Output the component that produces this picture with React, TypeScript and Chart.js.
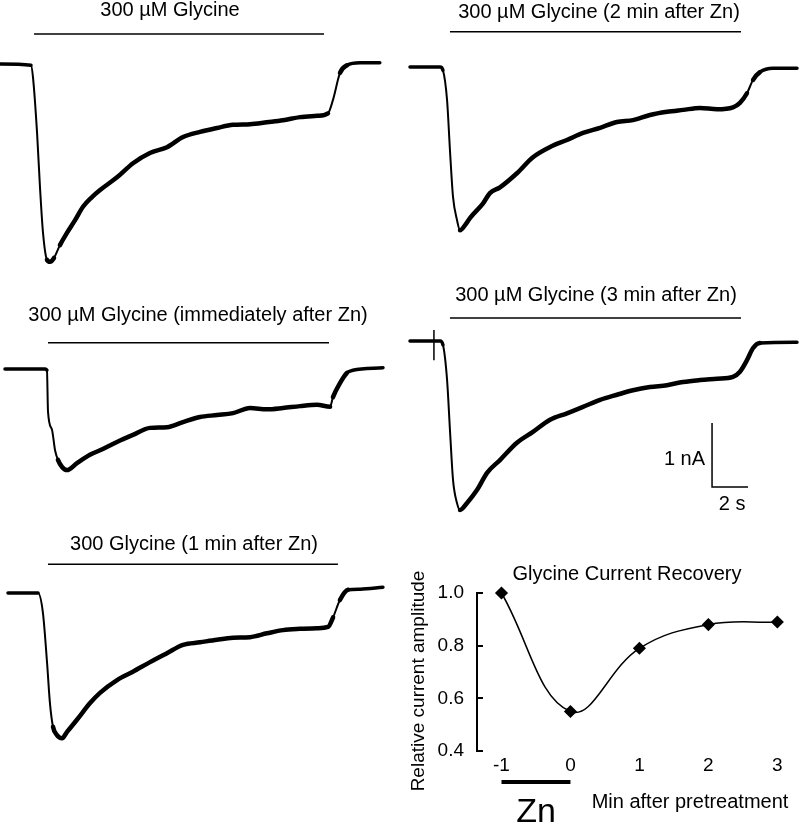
import React, { useEffect, useRef } from "react";
import { Chart, registerables } from "chart.js";

Chart.register(...registerables);

// ---------------- data ----------------
// time in s, current in nA (inward current negative)
const controlTime = [0, 1.72, 1.83, 2.06, 2.22, 2.39, 2.61, 2.78, 3.0, 3.33, 3.72, 4.17, 4.61, 5.11, 5.56, 6.5, 7.39, 8.33, 9.28, 10.17, 11.11, 12.06, 12.94, 13.89, 14.83, 15.72, 16.67, 17.61, 18.22, 18.5, 18.89, 19.28, 20.0, 21.1];
const controlCurrent = [0, -0.02, -0.2, -1.08, -1.92, -2.64, -3.06, -3.09, -3.03, -2.83, -2.64, -2.44, -2.23, -2.08, -1.97, -1.77, -1.55, -1.39, -1.3, -1.14, -1.06, -1.0, -0.95, -0.94, -0.91, -0.88, -0.83, -0.81, -0.77, -0.56, -0.14, -0.02, 0.02, 0.02];

const immediateTime = [0, 2.22, 2.33, 2.39, 2.61, 2.78, 2.94, 3.17, 3.44, 4.0, 4.72, 5.28, 6.22, 7.11, 8.06, 9.0, 9.89, 10.83, 11.78, 12.67, 13.61, 14.56, 15.44, 16.39, 17.33, 18.06, 18.22, 18.61, 19.0, 19.33, 21.0];
const immediateCurrent = [0, 0, -0.02, -0.67, -0.95, -1.27, -1.42, -1.53, -1.58, -1.47, -1.34, -1.27, -1.14, -1.03, -0.92, -0.91, -0.83, -0.75, -0.72, -0.69, -0.61, -0.63, -0.61, -0.58, -0.56, -0.59, -0.44, -0.22, -0.06, -0.02, 0.02];

const oneMinTime = [0, 1.67, 1.94, 2.17, 2.33, 2.5, 2.72, 3.0, 3.28, 3.83, 4.56, 5.11, 6.06, 6.94, 7.89, 8.83, 9.72, 10.67, 11.61, 12.5, 13.44, 14.39, 15.28, 16.22, 17.17, 17.78, 18.06, 18.44, 18.89, 19.56, 20.83];
const oneMinCurrent = [0, 0, -0.31, -1.09, -1.72, -2.09, -2.22, -2.27, -2.17, -1.98, -1.72, -1.56, -1.36, -1.23, -1.08, -0.94, -0.81, -0.77, -0.73, -0.7, -0.69, -0.63, -0.58, -0.56, -0.55, -0.53, -0.38, -0.11, 0.05, 0.06, 0.09];

const twoMinTime = [0, 1.67, 1.83, 2.06, 2.22, 2.39, 2.61, 2.78, 3.06, 3.33, 4.06, 4.44, 5.0, 5.94, 6.83, 7.78, 8.72, 9.61, 10.56, 11.5, 12.39, 13.33, 14.28, 15.17, 16.11, 17.06, 17.94, 18.33, 18.72, 19.06, 19.44, 20.17, 21.5];
const twoMinCurrent = [0, 0, -0.05, -0.52, -1.3, -2.03, -2.39, -2.55, -2.47, -2.36, -2.13, -1.97, -1.88, -1.66, -1.41, -1.25, -1.14, -1.03, -0.95, -0.86, -0.83, -0.75, -0.7, -0.67, -0.64, -0.66, -0.63, -0.56, -0.41, -0.2, -0.08, -0.02, -0.02];

const threeMinTime = [0, 1.67, 1.83, 2.06, 2.22, 2.39, 2.61, 2.78, 3.17, 3.72, 4.28, 5.0, 5.94, 6.83, 7.78, 8.72, 9.61, 10.56, 11.5, 12.39, 13.33, 14.28, 15.17, 16.11, 17.06, 17.94, 18.33, 18.72, 19.06, 19.44, 21.5];
const threeMinCurrent = [0, 0, -0.06, -0.61, -1.39, -2.17, -2.53, -2.64, -2.53, -2.33, -2.06, -1.86, -1.59, -1.42, -1.23, -1.13, -1.03, -0.92, -0.84, -0.77, -0.72, -0.69, -0.64, -0.61, -0.59, -0.56, -0.48, -0.3, -0.11, -0.03, -0.02];

// stimulus artifact on the 3-min trace
const artifactTime = 1.33;
const artifactCurrent = [0.17, -0.3];

// panel order: control, immediately, 1 min, 2 min, 3 min
const panelTitles = [
  "300 \u00B5M Glycine",
  "300 \u00B5M Glycine (immediately after Zn)",
  "300 Glycine (1 min after Zn)",
  "300 \u00B5M Glycine (2 min after Zn)",
  "300 \u00B5M Glycine (3 min after Zn)",
];
const stimulusStart = [1.89, 2.39, 2.22, 2.22, 2.22];
const stimulusEnd = [18.0, 18.0, 18.33, 18.39, 18.39];

// scale bar
const scaleBarCurrent = 1; // nA
const scaleBarTime = 2; // s
const scaleBarLabels = ["1 nA", "2 s"];

// recovery plot
const recoveryMinutes = [-1, 0, 1, 2, 3];
const recoveryAmplitude = [1.0, 0.55, 0.79, 0.88, 0.89];
const recoveryXTicks = [-1, 0, 1, 2, 3];
const recoveryYTicks = [0.4, 0.6, 0.8, 1.0];
const znStart = -1;
const znEnd = 0;

// ---------------- layout (positions only) ----------------
const PX_PER_S = 18;
const PX_PER_NA = 64;
const FONT = '"Liberation Sans", Arial, Helvetica, sans-serif';

type Box = { left: number; top: number; width: number; height: number };
type TraceLayout = { box: Box; x0: number; yb: number; barLevel: number; titleX: number; titleY: number };

const traceLayouts: TraceLayout[] = [
  { box: { left: 0, top: 0, width: 400, height: 280 }, x0: 0, yb: 64, barLevel: 0.47, titleX: 170, titleY: 16 },
  { box: { left: 0, top: 280, width: 400, height: 250 }, x0: 5, yb: 369, barLevel: 0.41, titleX: 198, titleY: 321 },
  { box: { left: 0, top: 530, width: 400, height: 294 }, x0: 8, yb: 593, barLevel: 0.45, titleX: 194, titleY: 550 },
  { box: { left: 400, top: 0, width: 400, height: 280 }, x0: 410, yb: 67, barLevel: 0.55, titleX: 599, titleY: 18 },
  { box: { left: 400, top: 280, width: 400, height: 250 }, x0: 410, yb: 341, barLevel: 0.36, titleX: 596, titleY: 301 },
];
const scaleBarOrigin = { t: 16.78, i: -1.28 };
const recoveryBox: Box = { left: 400, top: 530, width: 400, height: 294 };
const znBarLevel = 0.282;

type TextItem = { text: string; x: number; y: number; size: number; align?: CanvasTextAlign; rotate?: boolean };

function textPlugin(items: (chart: any) => TextItem[], extra?: (chart: any) => void) {
  return {
    id: "pageText",
    afterDraw(chart: any) {
      const ctx = chart.ctx as CanvasRenderingContext2D;
      ctx.save();
      if (extra) extra(chart);
      for (const it of items(chart)) {
        ctx.font = `${it.size}px ${FONT}`;
        ctx.fillStyle = "#000";
        ctx.textAlign = it.align || "center";
        ctx.textBaseline = "alphabetic";
        if (it.rotate) {
          ctx.save();
          ctx.translate(it.x, it.y);
          ctx.rotate(-Math.PI / 2);
          ctx.fillText(it.text, 0, 0);
          ctx.restore();
        } else {
          ctx.fillText(it.text, it.x, it.y);
        }
      }
      ctx.restore();
    },
  };
}

const zip = (xs: number[], ys: number[]) => xs.map((x, k) => ({ x, y: ys[k] }));

const segWidth = (ctx: any) => {
  const a = ctx.p0.parsed;
  const b = ctx.p1.parsed;
  const slope = Math.abs((b.y - a.y) / (b.x - a.x));
  if (slope > 0.6) return 2;
  if (Math.max(Math.abs(a.y), Math.abs(b.y)) < 0.1) return 3.5;
  return 4.5;
};

function makeTraceChart(canvas: HTMLCanvasElement, idx: number, t: number[], cur: number[], withScale: boolean) {
  const lay = traceLayouts[idx];
  const b = lay.box;
  const xmin = (b.left - lay.x0) / PX_PER_S;
  const xmax = (b.left + b.width - lay.x0) / PX_PER_S;
  const ymax = (lay.yb - b.top) / PX_PER_NA;
  const ymin = (lay.yb - b.top - b.height) / PX_PER_NA;
  const datasets: any[] = [
    {
      data: zip(t, cur),
      borderColor: "#000",
      borderWidth: 3,
      borderCapStyle: "round",
      borderJoinStyle: "round",
      pointRadius: 0,
      cubicInterpolationMode: "monotone",
      segment: { borderWidth: segWidth },
      clip: false,
    },
    {
      data: [
        { x: stimulusStart[idx], y: lay.barLevel },
        { x: stimulusEnd[idx], y: lay.barLevel },
      ],
      borderColor: "#000",
      borderWidth: 1.5,
      pointRadius: 0,
    },
  ];
  if (withScale) {
    datasets.push({
      data: [
        { x: artifactTime, y: artifactCurrent[0] },
        { x: artifactTime, y: artifactCurrent[1] },
      ],
      borderColor: "#000",
      borderWidth: 1.5,
      pointRadius: 0,
    });
    datasets.push({
      data: [
        { x: scaleBarOrigin.t, y: scaleBarOrigin.i },
        { x: scaleBarOrigin.t, y: scaleBarOrigin.i - scaleBarCurrent },
        { x: scaleBarOrigin.t + scaleBarTime, y: scaleBarOrigin.i - scaleBarCurrent },
      ],
      borderColor: "#000",
      borderWidth: 1.5,
      pointRadius: 0,
      tension: 0,
    });
  }
  const texts = (chart: any): TextItem[] => {
    const arr: TextItem[] = [
      { text: panelTitles[idx], x: lay.titleX - b.left, y: lay.titleY - b.top, size: 20 },
    ];
    if (withScale) {
      const xs = chart.scales.x;
      const ys = chart.scales.y;
      const vx = xs.getPixelForValue(scaleBarOrigin.t);
      const hx = xs.getPixelForValue(scaleBarOrigin.t + scaleBarTime);
      const top = ys.getPixelForValue(scaleBarOrigin.i);
      const bot = ys.getPixelForValue(scaleBarOrigin.i - scaleBarCurrent);
      arr.push({ text: scaleBarLabels[0], x: vx - 7, y: (top + bot) / 2 + 10, size: 20, align: "right" });
      arr.push({ text: scaleBarLabels[1], x: (vx + hx) / 2 + 2, y: bot + 23, size: 20 });
    }
    return arr;
  };
  return new Chart(canvas, {
    type: "line",
    data: { datasets },
    options: {
      responsive: false,
      animation: false,
      events: [],
      layout: { padding: 0 },
      plugins: { legend: { display: false }, tooltip: { enabled: false }, title: { display: false } },
      scales: {
        x: { type: "linear", display: false, min: xmin, max: xmax },
        y: { type: "linear", display: false, min: ymin, max: ymax },
      },
    } as any,
    plugins: [textPlugin(texts)],
  });
}

function makeRecoveryChart(canvas: HTMLCanvasElement) {
  const b = recoveryBox;
  const texts = (): TextItem[] => [
    { text: "Glycine Current Recovery", x: 627 - b.left, y: 580 - b.top, size: 20 },
    { text: "Relative current amplitude", x: 424 - b.left, y: 681 - b.top, size: 19, rotate: true },
    { text: "Min after pretreatment", x: 690 - b.left, y: 808 - b.top, size: 20 },
    { text: "Zn", x: 536 - b.left, y: 822 - b.top, size: 34 },
  ];
  const ticks = (chart: any) => {
    const ctx = chart.ctx as CanvasRenderingContext2D;
    const ys = chart.scales.y;
    const ax = ys.right;
    ctx.strokeStyle = "#000";
    ctx.lineWidth = 2;
    ctx.beginPath();
    for (const v of recoveryYTicks) {
      const py = Math.round(ys.getPixelForValue(v));
      ctx.moveTo(ax - 1, py);
      ctx.lineTo(ax + 6, py);
    }
    ctx.stroke();
  };
  return new Chart(canvas, {
    type: "line",
    data: {
      datasets: [
        {
          data: zip(recoveryMinutes, recoveryAmplitude),
          borderColor: "#000",
          borderWidth: 1.5,
          tension: 0.4,
          pointStyle: "rectRot",
          pointRadius: 5.5,
          pointBackgroundColor: "#000",
          pointBorderColor: "#000",
          clip: false,
        },
        {
          data: [
            { x: znStart, y: znBarLevel },
            { x: znEnd, y: znBarLevel },
          ],
          borderColor: "#000",
          borderWidth: 4,
          pointRadius: 0,
          clip: false,
        },
      ],
    },
    options: {
      responsive: false,
      animation: false,
      events: [],
      layout: { padding: { top: 63, left: 0, right: 0, bottom: 0 } },
      plugins: { legend: { display: false }, tooltip: { enabled: false }, title: { display: false } },
      scales: {
        x: {
          type: "linear",
          min: -1.355,
          max: 3.227,
          grid: { display: false, drawTicks: false },
          border: { display: false },
          ticks: { color: "#000", font: { family: FONT, size: 19 }, padding: 3, callback: (v: any) => String(v) },
          afterBuildTicks: (s: any) => {
            s.ticks = recoveryXTicks.map((v) => ({ value: v }));
          },
          afterFit: (s: any) => {
            s.height = 73;
          },
        },
        y: {
          type: "linear",
          min: 0.4,
          max: 1.0,
          grid: { display: false, drawTicks: false },
          border: { display: true, color: "#000", width: 2 },
          ticks: { color: "#000", font: { family: FONT, size: 19 }, padding: 13, callback: (v: any) => Number(v).toFixed(1) },
          afterBuildTicks: (s: any) => {
            s.ticks = recoveryYTicks.map((v) => ({ value: v }));
          },
          afterFit: (s: any) => {
            s.width = 77;
          },
        },
      },
    } as any,
    plugins: [textPlugin(texts, ticks)],
  });
}

export default function App() {
  const r0 = useRef<HTMLCanvasElement>(null);
  const r1 = useRef<HTMLCanvasElement>(null);
  const r2 = useRef<HTMLCanvasElement>(null);
  const r3 = useRef<HTMLCanvasElement>(null);
  const r4 = useRef<HTMLCanvasElement>(null);
  const r5 = useRef<HTMLCanvasElement>(null);

  useEffect(() => {
    const charts: Chart[] = [];
    charts.push(makeTraceChart(r0.current!, 0, controlTime, controlCurrent, false));
    charts.push(makeTraceChart(r1.current!, 1, immediateTime, immediateCurrent, false));
    charts.push(makeTraceChart(r2.current!, 2, oneMinTime, oneMinCurrent, false));
    charts.push(makeTraceChart(r3.current!, 3, twoMinTime, twoMinCurrent, false));
    charts.push(makeTraceChart(r4.current!, 4, threeMinTime, threeMinCurrent, true));
    charts.push(makeRecoveryChart(r5.current!));
    return () => charts.forEach((c) => c.destroy());
  }, []);

  const refs = [r0, r1, r2, r3, r4];
  return (
    <div style={{ position: "absolute", left: 0, top: 0, width: 800, height: 824, background: "#fff", overflow: "hidden" }}>
      {traceLayouts.map((l, k) => (
        <canvas
          key={k}
          ref={refs[k]}
          width={l.box.width}
          height={l.box.height}
          style={{ position: "absolute", left: l.box.left, top: l.box.top }}
        />
      ))}
      <canvas
        ref={r5}
        width={recoveryBox.width}
        height={recoveryBox.height}
        style={{ position: "absolute", left: recoveryBox.left, top: recoveryBox.top }}
      />
    </div>
  );
}
